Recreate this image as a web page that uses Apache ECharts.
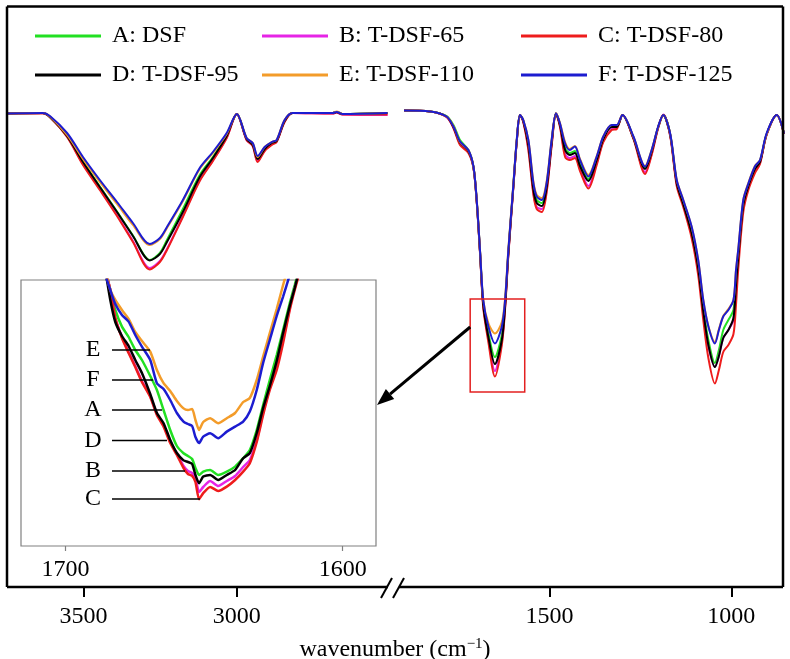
<!DOCTYPE html>
<html><head><meta charset="utf-8">
<script src="https://cdn.jsdelivr.net/npm/echarts@6/dist/echarts.min.js"></script>
<style>html,body{margin:0;padding:0;background:#fff}#c{width:790px;height:659px}</style>
</head><body><div id="c"></div>
<script>
// ---------- data ----------
const seriesNames = ['A: DSF','B: T-DSF-65','C: T-DSF-80','D: T-DSF-95','E: T-DSF-110','F: T-DSF-125'];
const seriesColors = ['#22e022','#e624e6','#ee1c1c','#000000','#f39c2a','#1c1cd0'];
const insetLetters = ['E','F','A','D','B','C'];
const leftTicks = [3500, 3000];
const rightTicks = [1500, 1000];
const insetTicks = [1700, 1600];

// left segment (3750-2500 cm-1)
const wnLeft = [3750,3633,3610,3554,3502,3447,3391,3339,3284,3251,3228,3176,3121,3078,3033,3000,2968,2948,2932,2909,2886,2870,2844,2818,2687,2674,2655,2508];
const leftA = [94.5,94.6,93.8,90.1,84.9,79.9,74.9,70.1,65.2,66.6,69.2,75.4,82.2,85.8,90.1,94.4,89.4,88.2,85.6,87.5,88.6,89.0,93.0,94.6,94.6,94.8,94.4,94.6];
const leftB = [94.5,94.6,93.8,89.9,84.4,79.4,74.2,69.0,63.6,65.0,67.4,74.0,81.2,85.1,89.7,94.4,89.2,88.0,85.0,87.1,88.3,88.9,92.9,94.6,94.5,94.7,94.3,94.2];
const leftC = [94.5,94.5,93.8,89.8,84.2,79.2,74.0,68.8,63.3,64.8,67.2,73.8,81.0,85.0,89.6,94.4,89.2,88.0,84.8,87.0,88.2,88.8,92.8,94.6,94.5,94.7,94.3,94.3];
const leftD = [94.5,94.6,93.8,90.0,84.8,79.8,74.8,70.0,65.1,66.4,68.8,74.8,81.8,85.6,90.0,94.4,89.4,88.2,85.4,87.4,88.6,89.0,93.0,94.6,94.6,94.8,94.4,94.6];
const leftE = [94.5,94.6,93.9,90.2,85.4,80.8,76.4,72.2,68.2,69.4,71.6,77.0,83.4,86.6,90.4,94.4,89.6,88.6,85.8,87.8,88.8,89.2,93.2,94.6,94.6,94.9,94.4,94.6];
const leftF = [94.5,94.6,94.0,90.6,85.8,81.2,76.8,72.6,68.4,69.6,71.8,77.2,83.6,86.8,90.6,94.4,89.6,88.6,86.0,87.8,88.8,89.2,93.2,94.6,94.6,94.8,94.4,94.6];

// right segment (1900-855 cm-1)
const wnRight = [1900,1828,1783,1764,1746,1723,1709,1700,1691,1682,1668,1650,1631,1622,1613,1599,1590,1581,1572,1558,1544,1535,1521,1508,1494,1482,1471,1457,1444,1430,1416,1393,1370,1352,1329,1315,1299,1269,1237,1219,1201,1187,1168,1150,1132,1109,1091,1077,1063,1045,1034,1022,1008,994,987,981,967,953,935,921,903,875,855];
const rightA = [95.1,94.9,94.0,92.2,89.2,87.2,83.8,77.0,66.9,56.6,50.6,45.8,50.2,56.4,66.8,80.4,89.0,94.2,93.1,88.6,79.8,77.2,76.6,80.0,88.8,94.5,92.3,87.6,86.6,87.0,84.4,81.4,85.4,89.6,92.0,92.0,94.2,89.7,83.6,87.0,91.8,94.2,90.3,80.8,76.6,71.0,64.0,55.6,49.2,44.6,47.2,51.2,53.2,55.2,61.2,66.2,76.6,80.2,83.6,85.0,90.3,94.2,90.5];
const rightB = [95.1,94.9,93.8,91.6,88.4,86.8,83.7,76.9,66.8,56.0,49.4,43.0,48.8,55.8,66.4,80.0,88.8,94.2,92.9,87.6,78.6,75.8,75.4,79.0,88.2,94.5,92.0,86.4,85.6,86.0,83.4,80.0,84.6,89.0,91.4,91.6,94.2,89.5,82.8,86.4,91.7,94.3,90.1,80.4,76.2,70.2,63.2,54.6,48.0,43.8,46.0,49.6,51.2,53.2,59.8,65.2,75.8,79.6,83.0,84.6,90.2,94.2,90.4];
const rightC = [95.1,94.9,93.8,91.6,88.2,86.6,83.6,76.8,66.6,55.6,48.8,41.9,48.2,55.4,66.2,80.0,88.8,94.2,92.8,87.2,78.2,75.4,74.8,78.6,88.0,94.5,91.8,85.8,85.2,85.6,83.0,79.5,84.2,88.8,91.2,91.4,94.2,89.4,82.4,86.2,91.6,94.2,90.0,80.0,75.8,69.6,62.2,53.2,45.6,40.5,43.2,46.8,48.2,50.4,56.2,63.2,74.8,79.2,82.6,84.4,90.2,94.2,90.4];
const rightD = [95.1,94.9,93.9,91.8,88.7,87.0,83.8,77.0,66.9,56.2,49.8,44.4,49.2,56.0,66.6,80.2,88.9,94.2,93.0,88.2,79.2,76.6,76.0,79.6,88.6,94.5,92.2,87.2,86.2,86.6,84.0,81.0,85.2,89.4,91.8,91.8,94.2,89.6,83.4,86.8,91.8,94.2,90.3,80.6,76.4,70.6,63.6,55.0,48.2,43.8,46.0,49.6,51.2,53.6,60.2,65.6,76.2,80.0,83.4,84.8,90.3,94.2,90.5];
const rightE = [95.1,94.9,93.9,92.0,88.8,87.2,83.8,77.2,67.2,57.2,52.6,50.5,52.8,57.6,67.4,80.6,89.2,94.2,93.2,89.2,80.8,78.2,77.6,80.8,89.2,94.5,92.6,88.8,87.4,88.0,85.4,82.2,86.0,89.9,92.2,92.2,94.2,89.8,84.0,87.2,91.8,94.2,90.4,81.2,77.2,71.8,65.2,57.2,52.0,48.8,51.4,54.0,55.4,57.2,63.2,67.2,77.2,80.6,84.0,85.2,90.3,94.2,90.5];
const rightF = [95.1,94.9,93.9,91.9,88.9,87.2,83.9,77.2,67.2,57.2,51.9,48.5,51.9,57.2,67.2,80.5,89.2,94.2,93.2,89.2,80.5,77.9,77.2,80.5,89.2,94.5,92.5,88.5,87.2,87.9,85.2,81.9,85.9,89.9,92.2,92.2,94.2,89.9,83.9,87.2,91.9,94.2,90.5,81.2,77.2,71.9,65.2,57.2,51.9,48.5,51.2,53.9,55.2,57.2,63.2,67.2,77.2,80.5,83.9,85.2,90.5,94.2,90.5];

// inset (zoom of the 1650 cm-1 band)
const wnInset = [1685.6,1683.8,1682.0,1679.6,1677.2,1674.8,1672.4,1669.4,1667.0,1664.6,1662.2,1659.8,1657.4,1655.8,1654.3,1653.1,1651.8,1650.3,1647.8,1644.9,1641.8,1638.8,1635.9,1633.5,1631.0,1628.7,1626.3,1623.8,1621.5,1619.1,1617.3,1615.5];
const insetA = [138,128,118,109.7,104.5,98,93,85,78,68,58,50,46.4,45,43.5,39,35.5,37.2,38,35.5,37.2,39.7,43.9,48,58,70.5,83,95.5,108,121.4,130.5,140];
const insetB = [138,128,114,104.5,97,90,82.5,75,66,60.5,52.5,46,40,37.5,36.5,34,27,29.5,32.5,30,32.5,35,39.5,43,53,66.5,79,89.5,103,119,129,138];
const insetC = [138,128,114,104,96.5,89.5,82,74.5,65.5,59.7,51.5,45.5,39,36,35,32,23.4,26.4,29.5,27.5,29.7,33,37.2,41.4,52,65.5,78,88,101.5,118,128,137];
const insetD = [138,123,112,105,100,93,86.5,76,66.5,61.4,53,46.5,42.8,42,41,35.5,31.4,34.7,35.5,33,35.5,38,43.9,46.4,56.5,69,80,92.5,106.5,120,129,139];
const insetE = [138,128,123,118,113.5,107,102.5,97.2,88,81.4,77.5,72.5,68.8,68,68.5,63,58,62,63.9,61.4,63.9,66.5,72,74,83,94.7,106.5,118.5,130.5,142,150.5,165];
const insetF = [135.5,128,121,115.5,112.2,105.5,99.7,93,81.4,78.5,73,66.5,62.2,61,60,54.5,51.5,54.7,56.4,53.9,57.2,59.7,62.2,67.2,78,91.5,103,115,124.7,135.5,143,155];

const leftData = [leftA,leftB,leftC,leftD,leftE,leftF];
const rightData = [rightA,rightB,rightC,rightD,rightE,rightF];
const insetData = [insetA,insetB,insetC,insetD,insetE,insetF];

// ---------- chart ----------
const FONT = 'Liberation Serif';
const chart = echarts.init(document.getElementById('c'), null, {renderer:'canvas'});
const pairs = (xs, ys) => xs.map((x,i)=>[x, ys[i]]);
const plain = v => String(v);

const series = [];
seriesNames.forEach((name, k) => {
  const col = seriesColors[k];
  const common = {name, type:'line', showSymbol:false, smooth:0.3, animation:false,
    itemStyle:{color:col}, emphasis:{disabled:true}};
  series.push(Object.assign({}, common, {xAxisIndex:0, yAxisIndex:0, data:pairs(wnLeft, leftData[k]), lineStyle:{color:col, width:2}}));
  series.push(Object.assign({}, common, {xAxisIndex:1, yAxisIndex:1, data:pairs(wnRight, rightData[k]), lineStyle:{color:col, width:2}}));
  series.push(Object.assign({}, common, {xAxisIndex:2, yAxisIndex:2, smooth:0.2, z:10, data:pairs(wnInset, insetData[k]), lineStyle:{color:col, width:2.5}}));
});

const mainAxis = (grid, min, max, ticks) => ({
  gridIndex:grid, type:'value', min, max, inverse:true,
  axisLine:{show:false}, splitLine:{show:false},
  axisTick:{show:true, customValues:ticks, length:11, lineStyle:{color:'#000', width:2}},
  axisLabel:{show:true, customValues:ticks, formatter:plain, fontFamily:FONT, fontSize:24, color:'#000', margin:19}
});
const hiddenY = (grid, max) => ({gridIndex:grid, type:'value', min:0, max, show:false});

const legendCol = (items, left) => ({
  data: items, orient:'vertical', left, top:24, padding:0, itemGap:15, itemWidth:66, itemHeight:3,
  icon:'rect', selectedMode:false,
  textStyle:{fontFamily:FONT, fontSize:24, color:'#000', lineHeight:24, padding:[0,0,0,6]}
});

chart.setOption({
  animation:false,
  backgroundColor:'#fff',
  title:{
    text:'wavenumber (cm{sup|\u22121})', left:'center', top:632,
    textStyle:{fontFamily:FONT, fontSize:24, fontWeight:'normal', color:'#000', lineHeight:26,
      rich:{sup:{fontFamily:FONT, fontSize:15, color:'#000', verticalAlign:'top', lineHeight:26, padding:[0,0,14,0]}}}
  },
  legend:[
    legendCol([seriesNames[0], seriesNames[3]], 35),
    legendCol([seriesNames[1], seriesNames[4]], 262),
    legendCol([seriesNames[2], seriesNames[5]], 521)
  ],
  grid:[
    {left:7, top:6, width:383, height:580},
    {left:404, top:6, width:380, height:580},
    {left:21, top:280, width:355, height:266, show:true, backgroundColor:'#fff', borderColor:'#808080', borderWidth:1.2}
  ],
  xAxis:[
    mainAxis(0, 2500, 3750, leftTicks),
    mainAxis(1, 855, 1900, rightTicks),
    {gridIndex:2, type:'value', min:1588, max:1716, inverse:true,
     axisLine:{show:false}, splitLine:{show:false},
     axisTick:{show:true, customValues:insetTicks, length:5, lineStyle:{color:'#808080', width:1.2}},
     axisLabel:{show:true, customValues:insetTicks, formatter:plain, fontFamily:FONT, fontSize:24, color:'#000', margin:12}}
  ],
  yAxis:[hiddenY(0,116), hiddenY(1,116), hiddenY(2,133)],
  series
});

// ---------- annotations ----------
const p1 = chart.convertToPixel({xAxisIndex:1, yAxisIndex:1}, [1718, 57.4]);
const p2 = chart.convertToPixel({xAxisIndex:1, yAxisIndex:1}, [1568, 38.8]);
const rx = p1[0], ry = p1[1], rw = p2[0]-p1[0], rh = p2[1]-p1[1];
const ax0 = rx, ay0 = ry + 28;
const tip = [377, 405];
const dx = tip[0]-ax0, dy = tip[1]-ay0, L = Math.hypot(dx,dy), ux = dx/L, uy = dy/L;
const hl = 17, hw = 6.5;
const bx = tip[0]-hl*ux, by = tip[1]-hl*uy;

const blk = {stroke:'#000', lineWidth:2.5};
const graphics = [
  {type:'line', shape:{x1:7,y1:6.5,x2:783,y2:6.5}, style:blk, z:100},
  {type:'line', shape:{x1:7,y1:6.5,x2:7,y2:587}, style:blk, z:100},
  {type:'line', shape:{x1:783,y1:6.5,x2:783,y2:587}, style:blk, z:100},
  {type:'line', shape:{x1:7,y1:587,x2:388,y2:587}, style:blk, z:100},
  {type:'line', shape:{x1:399,y1:587,x2:783,y2:587}, style:blk, z:100},
  {type:'line', shape:{x1:381,y1:598,x2:392,y2:578}, style:{stroke:'#000', lineWidth:2}, z:100},
  {type:'line', shape:{x1:393,y1:598,x2:404,y2:578}, style:{stroke:'#000', lineWidth:2}, z:100},
  {type:'rect', shape:{x:rx, y:ry, width:rw, height:rh}, style:{fill:null, stroke:'#e32020', lineWidth:1.5}, z:100},
  {type:'line', shape:{x1:ax0,y1:ay0,x2:bx,y2:by}, style:{stroke:'#000', lineWidth:3}, z:100},
  {type:'polygon', shape:{points:[[tip[0],tip[1]],[bx+hw*uy, by-hw*ux],[bx-hw*uy, by+hw*ux]]}, style:{fill:'#000'}, z:100}
];
const letterY = [350, 380, 410, 440.5, 471, 499];
const leaderEnd = [150, 153, 162, 167, 185, 200];
insetLetters.forEach((t, i) => {
  graphics.push({type:'text', x:93, y:letterY[i], style:{text:t, font:'24px "Liberation Serif"', fill:'#000', textAlign:'center', textVerticalAlign:'middle'}, z:100});
  graphics.push({type:'line', shape:{x1:112, y1:letterY[i], x2:leaderEnd[i], y2:letterY[i]}, style:{stroke:'#000', lineWidth:1.6}, z:100});
});
chart.setOption({graphic: graphics});
</script>
</body></html>
